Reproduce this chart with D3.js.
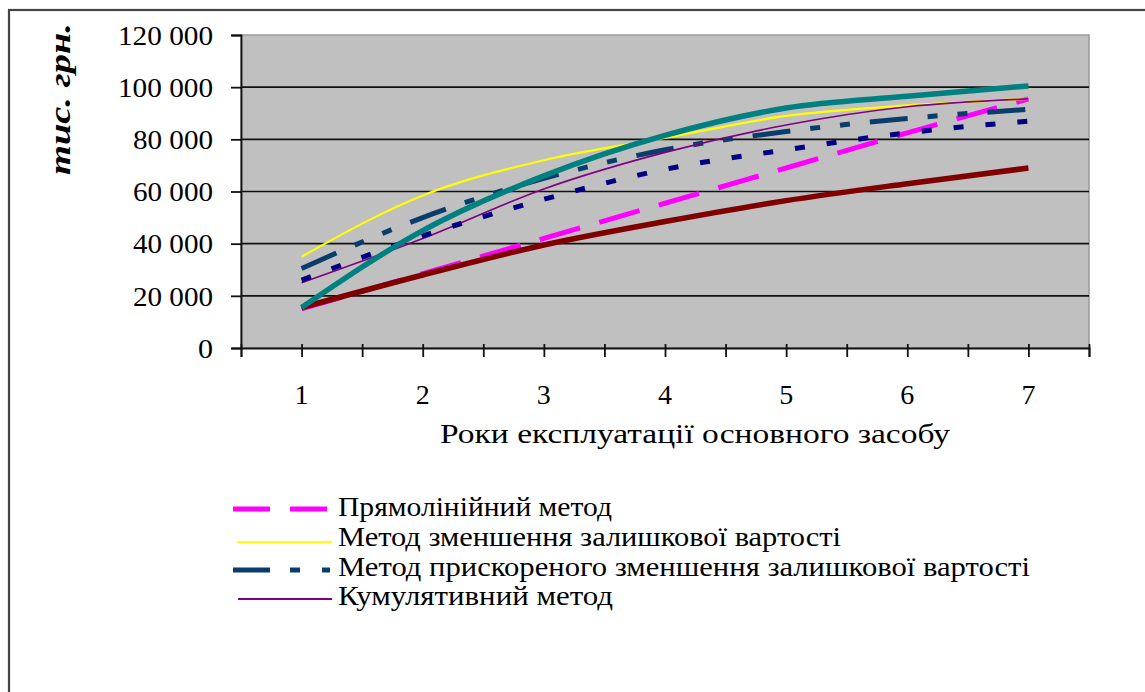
<!DOCTYPE html>
<html>
<head>
<meta charset="utf-8">
<script src="https://cdn.jsdelivr.net/npm/d3@7"></script>
<style>
  html, body { margin: 0; padding: 0; background: #ffffff; }
  svg { display: block; }
  text { font-family: "Liberation Serif", "Times New Roman", serif; fill: #000; }
</style>
</head>
<body>
<svg id="chart" width="1145" height="692"></svg>
<script>
// ---- data ----
const years = [1, 2, 3, 4, 5, 6, 7];
const xTickLabels = ["1", "2", "3", "4", "5", "6", "7"];
const yTicks = [0, 20000, 40000, 60000, 80000, 100000, 120000];

const straightLine      = [15000, 28500, 42000, 55500, 69000, 82500, 95500];   // Прямолінійний метод
const decliningBalance  = [35000, 58500, 72000, 80500, 89000, 93000, 95500];   // Метод зменшення залишкової вартості
const acceleratedUpper  = [30500, 50000, 65000, 76000, 83000, 88000, 91500];   // Метод прискореного зменшення ...
const acceleratedLower  = [26000, 43000, 57000, 68500, 76000, 82500, 87000];
const cumulative        = [25000, 42000, 61000, 75000, 85500, 92500, 95500];   // Кумулятивний метод
const tealSeries        = [15500, 45000, 66000, 81500, 92000, 96500, 100500];
const maroonSeries      = [15500, 28000, 39500, 48500, 56500, 63000, 69000];

const legendLabels = [
  "Прямолінійний метод",
  "Метод зменшення залишкової вартості",
  "Метод прискореного зменшення залишкової вартості",
  "Кумулятивний метод"
];
const yTitle = "тис. грн.";
const xTitle = "Роки експлуатації основного засобу";

// ---- layout ----
const svg = d3.select("#chart");
const plot = { left: 241, right: 1089, top: 35, bottom: 348 };

const x = d3.scaleLinear().domain([0.5, 7.5]).range([plot.left, plot.right]);
const y = d3.scaleLinear().domain([0, 120000]).range([plot.bottom, plot.top]);

// outer border
svg.append("rect")
  .attr("x", 9).attr("y", 10)
  .attr("width", 1145).attr("height", 700)
  .attr("fill", "none").attr("stroke", "#444").attr("stroke-width", 2.2);

// plot background
svg.append("rect")
  .attr("x", plot.left).attr("y", plot.top)
  .attr("width", plot.right - plot.left).attr("height", plot.bottom - plot.top)
  .attr("fill", "#c0c0c0").attr("stroke", "#9a9a9a").attr("stroke-width", 1.5);

// gridlines
svg.append("g").selectAll("line")
  .data(yTicks.filter(d => d > 0 && d < 120000))
  .join("line")
  .attr("x1", plot.left).attr("x2", plot.right)
  .attr("y1", d => y(d)).attr("y2", d => y(d))
  .attr("stroke", "#111").attr("stroke-width", 1.6);

// y axis
const yAxis = d3.axisLeft(y).tickValues(yTicks).tickSize(10).tickPadding(18)
  .tickFormat(d => d3.format(",")(d).replace(/,/g, " "));
const gy = svg.append("g").attr("transform", `translate(${plot.left},0)`).call(yAxis);
gy.select(".domain").attr("stroke", "#111").attr("stroke-width", 1.8);
gy.selectAll(".tick line").attr("stroke", "#111").attr("stroke-width", 1.8);
gy.selectAll(".tick text")
  .attr("font-family", "Liberation Serif, serif")
  .attr("font-size", 28).attr("fill", "#000").attr("dy", "0.33em")
  .attr("textLength", d => d >= 100000 ? 95 : (d > 0 ? 80 : 15))
  .attr("lengthAdjust", "spacingAndGlyphs");

// x axis (cross ticks every half unit)
const halfTicks = d3.range(0.5, 7.51, 0.5);
const xAxis = d3.axisBottom(x).tickValues(halfTicks).tickSize(9).tickFormat("");
const gx = svg.append("g").attr("transform", `translate(0,${plot.bottom})`).call(xAxis);
gx.select(".domain").attr("stroke", "#111").attr("stroke-width", 1.8);
gx.selectAll(".tick line").attr("y1", -4).attr("stroke", "#111").attr("stroke-width", 1.8);

svg.append("g").selectAll("text")
  .data(years)
  .join("text")
  .attr("x", d => x(d)).attr("y", 404)
  .attr("text-anchor", "middle")
  .attr("font-size", 28)
  .text((d, i) => xTickLabels[i]);

// axis titles
svg.append("text")
  .attr("x", 695).attr("y", 443)
  .attr("text-anchor", "middle")
  .attr("font-size", 28)
  .attr("textLength", 510).attr("lengthAdjust", "spacingAndGlyphs")
  .text(xTitle);

svg.append("text")
  .attr("transform", "translate(70,99) rotate(-90)")
  .attr("text-anchor", "middle")
  .attr("font-size", 30).attr("font-weight", "bold").attr("font-style", "italic")
  .attr("textLength", 152).attr("lengthAdjust", "spacingAndGlyphs")
  .text(yTitle);

// ---- series ----
const line = d3.line().x((d, i) => x(years[i])).y(d => y(d)).curve(d3.curveMonotoneX);

const series = [
  { data: straightLine,     color: "#ff00ff", width: 5,   dash: "42,20" },
  { data: decliningBalance, color: "#ffff00", width: 2.2, dash: null },
  { data: acceleratedUpper, color: "#0a3d6b", width: 5,   dash: "38,20,10,20,10,20" },
  { data: cumulative,       color: "#800080", width: 1.6, dash: null },
  { data: acceleratedLower, color: "#000080", width: 5,   dash: "10,22" },
  { data: maroonSeries,     color: "#800000", width: 5.5, dash: null },
  { data: tealSeries,       color: "#008080", width: 5.5, dash: null }
];

svg.append("g").selectAll("path")
  .data(series)
  .join("path")
  .attr("d", d => line(d.data))
  .attr("fill", "none")
  .attr("stroke", d => d.color)
  .attr("stroke-width", d => d.width)
  .attr("stroke-dasharray", d => d.dash)
  .attr("stroke-linejoin", "round");

// ---- legend ----
const legendItems = [
  { label: legendLabels[0], color: "#ff00ff", width: 5,   dash: "37,20", x1: 233, x2: 327, ly: 509, ty: 516, tl: 274 },
  { label: legendLabels[1], color: "#ffff00", width: 2,   dash: null,    x1: 237, x2: 332, ly: 542, ty: 546, tl: 503 },
  { label: legendLabels[2], color: "#0a3d6b", width: 5,   dash: "37,20,10,22,8,20", x1: 233, x2: 330, ly: 570, ty: 576, tl: 692 },
  { label: legendLabels[3], color: "#800080", width: 1.8, dash: null,    x1: 238, x2: 332, ly: 599, ty: 605, tl: 275 }
];
const lg = svg.append("g").selectAll("g").data(legendItems).join("g");
lg.append("line")
  .attr("x1", d => d.x1).attr("x2", d => d.x2)
  .attr("y1", d => d.ly).attr("y2", d => d.ly)
  .attr("stroke", d => d.color).attr("stroke-width", d => d.width)
  .attr("stroke-dasharray", d => d.dash);
lg.append("text")
  .attr("x", 338).attr("y", d => d.ty)
  .attr("font-size", 27)
  .attr("textLength", d => d.tl).attr("lengthAdjust", "spacingAndGlyphs")
  .text(d => d.label);
</script>
</body>
</html>
